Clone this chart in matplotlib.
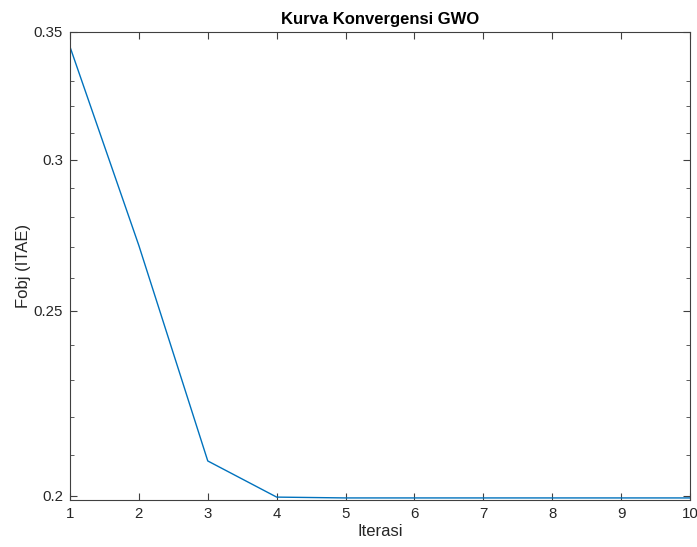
import matplotlib.pyplot as plt
from matplotlib.ticker import FixedLocator, FormatStrFormatter, NullFormatter

plt.rcParams['font.family'] = ['Liberation Sans', 'DejaVu Sans']

# data
iterasi = [1, 2, 3, 4, 5, 6, 7, 8, 9, 10]
fobj = [0.3438, 0.2705, 0.2086, 0.1997, 0.1995, 0.1995, 0.1995, 0.1995, 0.1995, 0.1995]

y_major = [0.2, 0.25, 0.3, 0.35]
y_minor = [0.21, 0.22, 0.23, 0.24, 0.26, 0.27, 0.28, 0.29, 0.31, 0.32, 0.33]

fig = plt.figure(figsize=(6.97, 5.47), dpi=100)
ax = fig.add_axes([0.1004, 0.0859, 0.8896, 0.8556])

ax.plot(iterasi, fobj, color=(0, 0.447, 0.741), lw=1.0)

ax.set_yscale('log')
ax.set_xlim(1, 10)
ax.set_ylim(0.199, 0.35)
ax.set_xticks(iterasi)
ax.yaxis.set_major_locator(FixedLocator(y_major))
ax.yaxis.set_major_formatter(FormatStrFormatter('%g'))
ax.yaxis.set_minor_locator(FixedLocator(y_minor))
ax.yaxis.set_minor_formatter(NullFormatter())

gray = '#262626'
for s in ax.spines.values():
    s.set_color('#404040')
    s.set_linewidth(0.8)
ax.tick_params(which='both', direction='in', top=True, right=True,
               colors='#404040', labelcolor=gray, labelsize=10.8)
ax.tick_params(which='major', length=5, width=0.8, pad=5)
ax.tick_params(which='minor', length=3, width=0.6)

ax.set_title('Kurva Konvergensi GWO', fontsize=12, fontweight='bold', pad=6, color='black')
ax.set_xlabel('Iterasi', fontsize=12, color=gray, labelpad=2)
ax.set_ylabel('Fobj (ITAE)', fontsize=12, color=gray, labelpad=2)

fig.savefig('out.png', dpi=100, facecolor='white')
